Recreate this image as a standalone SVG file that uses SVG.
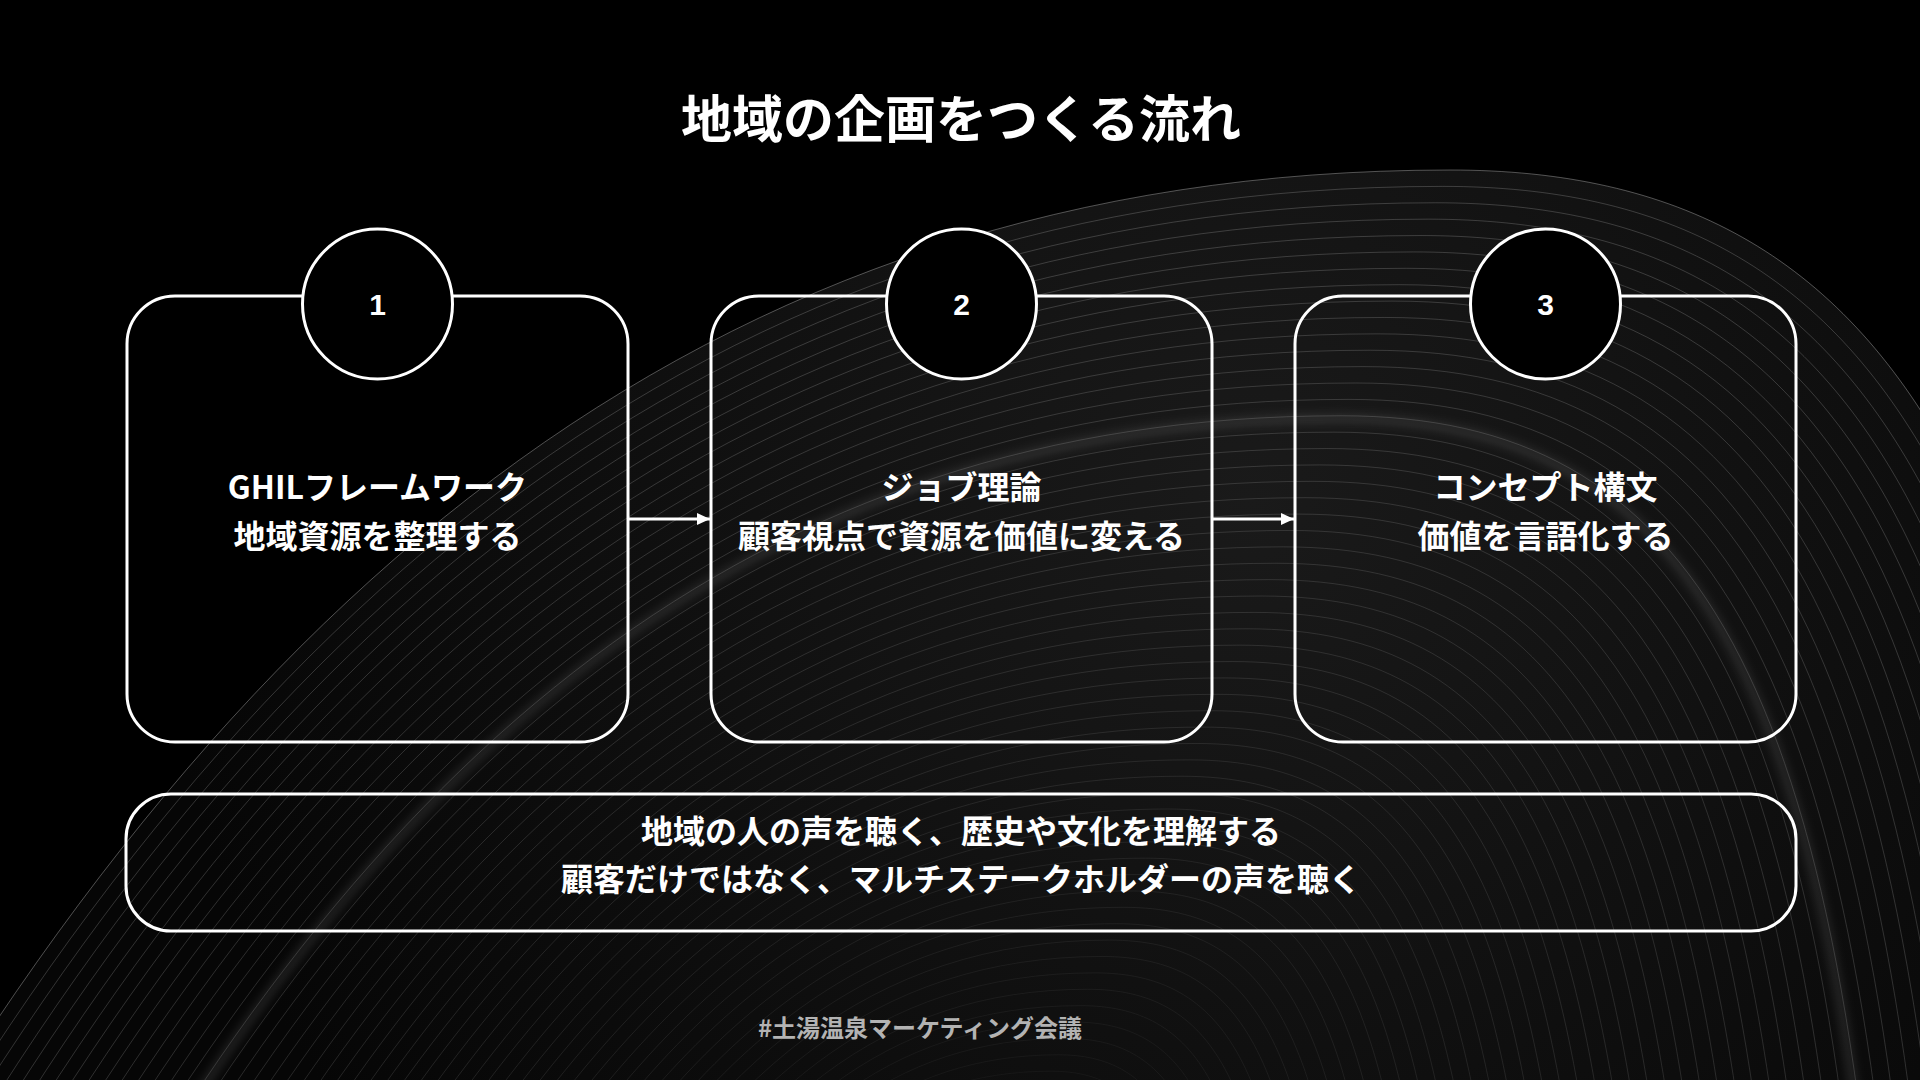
<svg xmlns="http://www.w3.org/2000/svg" xmlns:xlink="http://www.w3.org/1999/xlink" width="1920" height="1080" viewBox="0 0 1920 1080">
<style>
.box{fill:none;stroke:#fff;stroke-width:3}
.badge{fill:#000;stroke:#fff;stroke-width:3}
.num{font-family:"Liberation Sans",Arial,sans-serif;font-weight:700;font-size:30px;fill:#fff;text-anchor:middle}
.jp{font-family:"Noto Sans CJK JP","Noto Sans",sans-serif;font-weight:700;fill:#fff;text-anchor:middle}
.t31{font-size:32px}
.conn{stroke:#fff;stroke-width:3;fill:none}
.ring{fill:none;stroke:#fff;stroke-opacity:0.19;stroke-width:1;vector-effect:non-scaling-stroke}
</style>
<defs>
<path id="dome" d="M-200,1350 C200,600 700,170 1450,170 C1900,170 2100,500 2150,1500"/>
<radialGradient id="domeFill" cx="1250" cy="500" r="1100" gradientUnits="userSpaceOnUse">
<stop offset="0" stop-color="#1a1a1a"/>
<stop offset="0.6" stop-color="#0e0e0e"/>
<stop offset="1" stop-color="#060606"/>
</radialGradient>
<filter id="blur" x="-10%" y="-10%" width="120%" height="120%"><feGaussianBlur stdDeviation="6"/></filter>
<marker id="arrow" markerUnits="userSpaceOnUse" markerWidth="14" markerHeight="12" refX="13" refY="6" orient="auto">
<path d="M0,0 L13,6 L0,12 Z" fill="#fff"/>
</marker>
</defs>
<rect width="1920" height="1080" fill="#000"/>
<g id="background">
<path d="M-200,1350 C200,600 700,170 1450,170 C1900,170 2100,500 2150,1500 L-200,1500 Z" fill="url(#domeFill)"/>
<use href="#dome" class="ring" transform="matrix(0.78,0,0,0.78,209,286)" style="stroke-opacity:0.12;stroke-width:10" filter="url(#blur)"/>
<g>
<use href="#dome" class="ring" style="stroke-opacity:0.3"/>
<use href="#dome" class="ring" transform="matrix(0.9855,0,0,0.9855,13.775,18.85)"/>
<use href="#dome" class="ring" transform="matrix(0.971,0,0,0.971,27.55,37.7)"/>
<use href="#dome" class="ring" transform="matrix(0.9565,0,0,0.9565,41.325,56.55)"/>
<use href="#dome" class="ring" transform="matrix(0.942,0,0,0.942,55.1,75.4)"/>
<use href="#dome" class="ring" transform="matrix(0.9275,0,0,0.9275,68.875,94.25)"/>
<use href="#dome" class="ring" transform="matrix(0.913,0,0,0.913,82.65,113.1)"/>
<use href="#dome" class="ring" transform="matrix(0.8985,0,0,0.8985,96.425,131.95)"/>
<use href="#dome" class="ring" transform="matrix(0.884,0,0,0.884,110.2,150.8)"/>
<use href="#dome" class="ring" transform="matrix(0.8695,0,0,0.8695,123.975,169.65)"/>
<use href="#dome" class="ring" transform="matrix(0.855,0,0,0.855,137.75,188.5)"/>
<use href="#dome" class="ring" transform="matrix(0.8405,0,0,0.8405,151.525,207.35)"/>
<use href="#dome" class="ring" transform="matrix(0.826,0,0,0.826,165.3,226.2)"/>
<use href="#dome" class="ring" transform="matrix(0.8115,0,0,0.8115,179.075,245.05)"/>
<use href="#dome" class="ring" transform="matrix(0.797,0,0,0.797,192.85,263.9)"/>
<use href="#dome" class="ring" transform="matrix(0.7825,0,0,0.7825,206.625,282.75)"/>
<use href="#dome" class="ring" transform="matrix(0.768,0,0,0.768,220.4,301.6)"/>
<use href="#dome" class="ring" transform="matrix(0.7535,0,0,0.7535,234.175,320.45)"/>
<use href="#dome" class="ring" transform="matrix(0.739,0,0,0.739,247.95,339.3)"/>
<use href="#dome" class="ring" transform="matrix(0.7245,0,0,0.7245,261.725,358.15)"/>
<use href="#dome" class="ring" transform="matrix(0.71,0,0,0.71,275.5,377)"/>
<use href="#dome" class="ring" transform="matrix(0.6955,0,0,0.6955,289.275,395.85)"/>
<use href="#dome" class="ring" transform="matrix(0.681,0,0,0.681,303.05,414.7)"/>
<use href="#dome" class="ring" transform="matrix(0.6665,0,0,0.6665,316.825,433.55)"/>
<use href="#dome" class="ring" transform="matrix(0.652,0,0,0.652,330.6,452.4)"/>
<use href="#dome" class="ring" transform="matrix(0.6375,0,0,0.6375,344.375,471.25)"/>
<use href="#dome" class="ring" transform="matrix(0.623,0,0,0.623,358.15,490.1)"/>
<use href="#dome" class="ring" transform="matrix(0.6085,0,0,0.6085,371.925,508.95)"/>
<use href="#dome" class="ring" transform="matrix(0.594,0,0,0.594,385.7,527.8)"/>
<use href="#dome" class="ring" transform="matrix(0.5795,0,0,0.5795,399.475,546.65)"/>
<use href="#dome" class="ring" transform="matrix(0.565,0,0,0.565,413.25,565.5)"/>
<use href="#dome" class="ring" transform="matrix(0.5505,0,0,0.5505,427.025,584.35)"/>
<use href="#dome" class="ring" transform="matrix(0.536,0,0,0.536,440.8,603.2)"/>
<use href="#dome" class="ring" transform="matrix(0.5215,0,0,0.5215,454.575,622.05)"/>
<use href="#dome" class="ring" transform="matrix(0.507,0,0,0.507,468.35,640.9)"/>
<use href="#dome" class="ring" transform="matrix(0.4925,0,0,0.4925,482.125,659.75)"/>
<use href="#dome" class="ring" transform="matrix(0.478,0,0,0.478,495.9,678.6)"/>
<use href="#dome" class="ring" transform="matrix(0.4635,0,0,0.4635,509.675,697.45)"/>
<use href="#dome" class="ring" transform="matrix(0.449,0,0,0.449,523.45,716.3)"/>
<use href="#dome" class="ring" transform="matrix(0.4345,0,0,0.4345,537.225,735.15)"/>
<use href="#dome" class="ring" transform="matrix(0.42,0,0,0.42,551,754)"/>
<use href="#dome" class="ring" transform="matrix(0.4055,0,0,0.4055,564.775,772.85)"/>
<use href="#dome" class="ring" transform="matrix(0.391,0,0,0.391,578.55,791.7)"/>
<use href="#dome" class="ring" transform="matrix(0.3765,0,0,0.3765,592.325,810.55)"/>
<use href="#dome" class="ring" transform="matrix(0.362,0,0,0.362,606.1,829.4)"/>
<use href="#dome" class="ring" transform="matrix(0.3475,0,0,0.3475,619.875,848.25)"/>
<use href="#dome" class="ring" transform="matrix(0.333,0,0,0.333,633.65,867.1)"/>
<use href="#dome" class="ring" transform="matrix(0.3185,0,0,0.3185,647.425,885.95)"/>
<use href="#dome" class="ring" transform="matrix(0.304,0,0,0.304,661.2,904.8)"/>
<use href="#dome" class="ring" transform="matrix(0.2895,0,0,0.2895,674.975,923.65)"/>
<use href="#dome" class="ring" transform="matrix(0.275,0,0,0.275,688.75,942.5)"/>
<use href="#dome" class="ring" transform="matrix(0.2605,0,0,0.2605,702.525,961.35)"/>
<use href="#dome" class="ring" transform="matrix(0.246,0,0,0.246,716.3,980.2)"/>
<use href="#dome" class="ring" transform="matrix(0.2315,0,0,0.2315,730.075,999.05)"/>
<use href="#dome" class="ring" transform="matrix(0.217,0,0,0.217,743.85,1017.9)"/>
<use href="#dome" class="ring" transform="matrix(0.2025,0,0,0.2025,757.625,1036.75)"/>
<use href="#dome" class="ring" transform="matrix(0.188,0,0,0.188,771.4,1055.6)"/>
</g>
</g>
<text class="jp" x="961" y="138" style="font-size:51px">地域の企画をつくる流れ</text>
<g id="connectors">
<line class="conn" x1="628" y1="519" x2="710" y2="519" marker-end="url(#arrow)"/>
<line class="conn" x1="1212" y1="519" x2="1294" y2="519" marker-end="url(#arrow)"/>
</g>
<g id="node-1">
<rect class="box" x="127" y="296" width="501" height="446" rx="48"/>
<circle class="badge" cx="377.5" cy="304" r="75"/>
<text class="num" x="377.5" y="315">1</text>
<text class="jp t31" x="377.5" y="499">GHILフレームワーク</text>
<text class="jp t31" x="377.5" y="548">地域資源を整理する</text>
</g>
<g id="node-2">
<rect class="box" x="711" y="296" width="501" height="446" rx="48"/>
<circle class="badge" cx="961.5" cy="304" r="75"/>
<text class="num" x="961.5" y="315">2</text>
<text class="jp t31" x="961.5" y="499">ジョブ理論</text>
<text class="jp t31" x="961.5" y="548">顧客視点で資源を価値に変える</text>
</g>
<g id="node-3">
<rect class="box" x="1295" y="296" width="501" height="446" rx="48"/>
<circle class="badge" cx="1545.5" cy="304" r="75"/>
<text class="num" x="1545.5" y="315">3</text>
<text class="jp t31" x="1545.5" y="499">コンセプト構文</text>
<text class="jp t31" x="1545.5" y="548">価値を言語化する</text>
</g>
<g id="node-note">
<rect class="box" x="126" y="794" width="1670" height="137" rx="45"/>
<text class="jp t31" x="961" y="843">地域の人の声を聴く、歴史や文化を理解する</text>
<text class="jp t31" x="961" y="891">顧客だけではなく、マルチステークホルダーの声を聴く</text>
</g>
<text class="jp" x="920" y="1037" style="font-size:24px;fill:#b3b3b3">#土湯温泉マーケティング会議</text>
</svg>
